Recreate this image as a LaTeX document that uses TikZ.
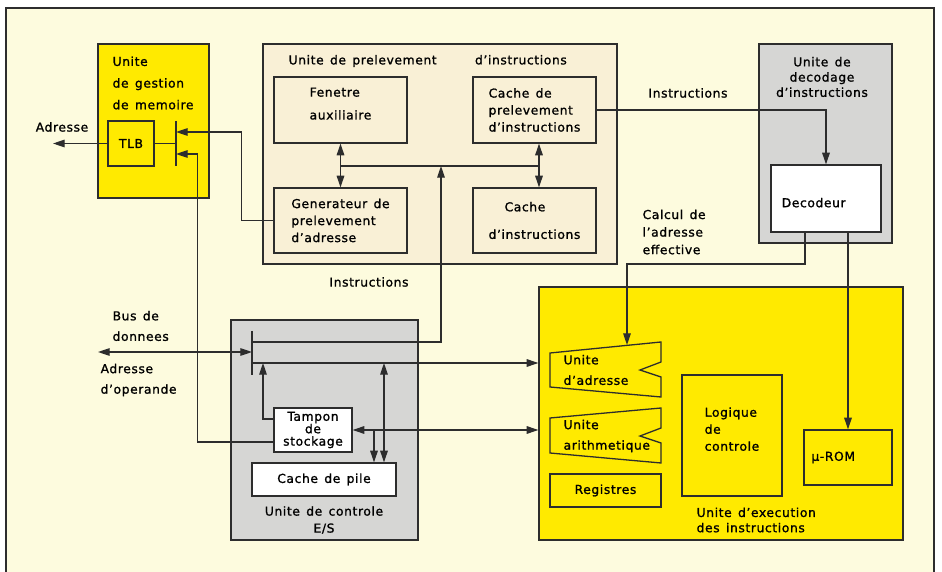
\documentclass[tikz,border=0pt]{standalone}
\usepackage{fontspec}
\setmainfont{DejaVu Sans}[LetterSpace=5, WordSpace=1.4, FakeBold=1.2]
\usetikzlibrary{arrows.meta,fit,calc}
\definecolor{paper}{RGB}{253,251,222}
\definecolor{jaune}{RGB}{255,234,0}
\definecolor{gris}{RGB}{214,214,212}
\definecolor{beige}{RGB}{249,240,214}
\definecolor{trait}{RGB}{45,45,45}

\begin{document}
\begin{tikzpicture}[x=0.03cm, y=-0.03cm, line width=1.1pt, draw=trait,
    font=\fontsize{10.5}{14.5}\selectfont,
    unitbox/.style={draw=trait, inner sep=0pt},
    blockbox/.style 2 args={draw=trait, inner sep=0pt, align=left,
        minimum width={#1*0.03cm}, minimum height={#2*0.03cm}},
    textnode/.style={inner sep=0pt, align=left},
    arr/.style={-{Triangle[length=10pt,width=6.5pt]}},
    arrs/.style={{Triangle[length=10pt,width=6.5pt]}-{Triangle[length=10pt,width=6.5pt]}}]
    \useasboundingbox (0,0) rectangle (942,572);
    \fill[paper] (6,8) rectangle (934,572);
    \draw[line width=2pt] (6,572) -- (6,8) -- (934,8) -- (934,572);

    % unites
    \node[unitbox, fill=jaune, fit={(98,44) (209,198)}] (mmu) {};
    \node[unitbox, fill=beige, fit={(263,44) (617,264)}] (pre) {};
    \node[unitbox, fill=gris, fit={(759,44) (892,243)}] (dcu) {};
    \node[unitbox, fill=jaune, fit={(539,287) (903,540)}] (exe) {};
    \node[unitbox, fill=gris, fit={(231,320) (418,540)}] (ioc) {};

    % blocs
    \node[blockbox={46}{45}] (tlb) at (131,143.5) {TLB};
    \node[blockbox={133}{66}, text depth=11pt] (fen) at (340.5,110) {Fenetre\\[5pt]auxiliaire};
    \node[blockbox={123}{66}] (cpi) at (534.5,110) {Cache de\\prelevement\\d'instructions};
    \node[blockbox={133}{65}] (gen) at (340.5,220.5) {Generateur de\\prelevement\\d'adresse};
    \node[blockbox={123}{65}] (ci) at (534.5,220.5) {\hspace*{1.3em}Cache\\[9pt]d'instructions};
    \node[blockbox={110}{67}, fill=white, text height=15pt] (dec) at (826,198.5) {Decodeur\hspace*{2em}};
    \node[blockbox={78}{44}, fill=white, align=center] (tampon) at (313,430) {Tampon\\[-3.9pt]de\\[-3.9pt]stockage};
    \node[blockbox={144}{33}, fill=white] (pile) at (324,479.5) {Cache de pile};
    \node[blockbox={111}{33}] (reg) at (605.5,490.5) {Registres};
    \node[blockbox={100}{121}, text depth=11pt] (logc) at (732,435.5) {Logique\\de\\controle};
    \node[blockbox={88}{55}] (rom) at (848,457.5) {μ-ROM\hspace*{2.4em}};

    \draw[fill=jaune] (550,353) -- (661,342) -- (661,362) -- (640,370) -- (661,377) -- (661,397) -- (550,387) -- cycle;
    \draw[fill=jaune] (550,418) -- (661,408) -- (661,428) -- (640,436) -- (661,443) -- (661,463) -- (550,453) -- cycle;
    \node[textnode, anchor=west] (uadr) at (563,370) {Unite\\[3pt]d'adresse};
    \node[textnode, anchor=west] (uari) at (563,436) {Unite\\[3pt]arithmetique};

    % bus et liaisons
    \coordinate (mbar n) at (176,121); \coordinate (mbar s) at (176,166);
    \coordinate (min1) at (176,132); \coordinate (min2) at (176,154);
    \coordinate (adrout) at (53,143.5);
    \draw[line width=1.5pt] (mbar n) -- (mbar s);
    \draw (tlb.east) -- (tlb.east -| mbar n);
    \draw[arr] (tlb.west) -- (adrout);
    \draw[arr] (gen.west) -- ++(-32,0) |- (min1);
    \draw[arr] ($(tampon.west)+(0,12)$) -- ++(-76,0) |- (min2);

    \coordinate (bus w) at (340.5,166); \coordinate (bus e) at (539,166);
    \coordinate (busin) at (441,166);
    \draw (bus w) -- (bus e);
    \draw[arrs] (fen.south) -- (gen.north);
    \draw[arrs] (cpi.south -| bus e) -- (ci.north -| bus e);

    \coordinate (iobar n) at (252,331); \coordinate (iobar s) at (252,375);
    \coordinate (ioA) at (252,342); \coordinate (ioB) at (252,363);
    \coordinate (ext) at (98,352);
    \draw[line width=1.5pt] (iobar n) -- (iobar s);
    \draw[arr] (ioA) -| (busin);
    \draw[arr] (ioB) -- (ioB -| exe.west);
    \draw[arrs] (ext) -- (ext -| iobar n);
    \draw[arr] ($(tampon.west)+(0,-11)$) -| ($(ioB)+(11,0)$);
    \draw[arrs] (tampon.east) -- (tampon.east -| exe.west);
    \coordinate (tbr) at (374,430); \coordinate (pbr) at (384,363);
    \draw[arr] (tbr) -- (tbr |- pile.north);
    \draw[arrs] (pbr) -- (pbr |- pile.north);

    \coordinate (uatop) at (627,345);
    \draw[arr] (cpi.east) -| (dec.north);
    \draw[arr] ($(dec.south)+(-21,0)$) |- ($(uatop)+(0,-81)$) -- (uatop);
    \draw[arr] (rom.north |- dec.south) -- (rom.north);

    % textes
    \node[textnode, anchor=west] (mmutit) at (112,83) {Unite\\[4pt]de gestion\\[4pt]de memoire};
    \node[textnode, anchor=west] (pretit) at (288,61) {Unite de prelevement\hspace{2.6em} d'instructions};
    \node[textnode, align=center] (dcutit) at (822,77) {Unite de\\[-1.5pt]decodage\\[-1.5pt]d'instructions};
    \node[textnode, anchor=west] (exetit) at (696,520) {Unite d'execution\\[-1.5pt]des instructions};
    \node[textnode, align=center] (ioctit) at (324,520) {Unite de controle\\E/S};
    \node[textnode] (adrlab) at (62,127) {Adresse};
    \node[textnode] (inslab1) at (369,282) {Instructions};
    \node[textnode] (inslab2) at (688,93) {Instructions};
    \node[textnode, anchor=west] (calclab) at (642,232) {Calcul de\\[0.5pt]l'adresse\\[0.5pt]effective};
    \node[textnode, anchor=west] (buslab) at (112,326) {Bus de\\[3pt]donnees};
    \node[textnode, anchor=west] (oplab) at (100,380) {Adresse\\[3pt]d'operande};
\end{tikzpicture}
\end{document}
